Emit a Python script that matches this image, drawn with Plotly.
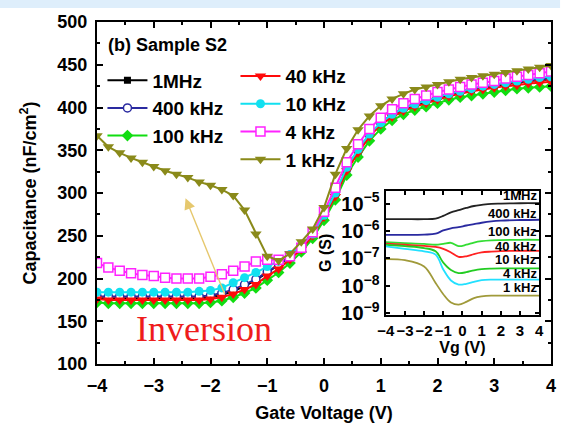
import plotly.graph_objects as go

# ---------------- data ----------------
vg = [-4.0, -3.8, -3.6, -3.4, -3.2, -3.0, -2.8, -2.6, -2.4, -2.2, -2.0, -1.8, -1.6, -1.4, -1.2,
      -1.0, -0.8, -0.6, -0.4, -0.2, 0.0, 0.2, 0.4, 0.6, 0.8, 1.0, 1.2, 1.4, 1.6, 1.8, 2.0,
      2.2, 2.4, 2.6, 2.8, 3.0, 3.2, 3.4, 3.6, 3.8, 4.0]

c_1mhz = [177, 177, 177, 177, 177, 177, 177, 177, 177, 177, 178, 181, 185, 191, 198, 207, 215, 225,
          237, 252, 273, 298, 327, 348, 367, 381, 391, 398, 403, 407, 411, 415, 418, 421, 423, 425,
          427, 429, 431, 432, 433]
c_400k = [179, 179, 179, 179, 179, 179, 179, 179, 179, 179, 180, 183, 187, 193, 199, 208, 216, 226,
          238, 253, 274, 299, 328, 349, 368, 382, 392, 399, 404, 408, 412, 416, 419, 422, 424, 426,
          428, 430, 432, 433, 434]
c_100k = [172, 171, 171, 171, 171, 171, 171, 171, 171, 171, 172, 174, 178, 183, 189, 198, 207, 218,
          231, 247, 268, 292, 321, 342, 361, 375, 385, 392, 397, 401, 405, 409, 412, 414, 416, 418,
          420, 422, 423, 424, 425]
c_40k = [176, 175, 175, 175, 175, 175, 175, 175, 175, 175, 176, 178, 182, 187, 193, 203, 211, 222,
         234, 250, 272, 296, 326, 347, 366, 380, 389, 396, 401, 405, 409, 413, 416, 419, 421, 423,
         425, 426, 428, 429, 430]
c_10k = [184, 184, 184, 184, 184, 184, 184, 184, 184, 185, 186, 189, 195, 201, 207, 214, 220, 228,
         238, 252, 274, 300, 330, 351, 369, 382, 392, 399, 404, 408, 412, 416, 419, 422, 425, 427,
         429, 431, 433, 435, 436]
c_4k = [218, 213, 209, 206, 204, 203, 201, 200, 200, 200, 202, 205, 209, 214, 220, 222, 222, 226,
        236, 254, 278, 306, 336, 357, 375, 388, 398, 405, 410, 414, 418, 421, 424, 427, 429, 431,
        434, 436, 438, 440, 442]
c_1k = [367, 354, 347, 341, 336, 331, 326, 322, 318, 313, 309, 304, 297, 280, 252, 226, 221, 229,
        243, 258, 283, 322, 352, 374, 390, 402, 410, 416, 421, 424, 427, 430, 433, 435, 437, 439,
        441, 443, 445, 447, 449]

# inset: log10 of conductance G (S)
vg_in = [-4.0, -3.0, -2.0, -1.4, -1.0, -0.6, -0.2, 0.2, 0.6, 1.0, 1.5, 2.0, 3.0, 4.0]
g_1mhz = [-5.57, -5.57, -5.57, -5.55, -5.45, -5.32, -5.24, -5.16, -5.09, -5.05, -5.01, -5.0, -4.99, -4.99]
g_400k = [-6.14, -6.14, -6.13, -6.10, -5.98, -5.90, -5.86, -5.80, -5.75, -5.70, -5.65, -5.62, -5.60, -5.59]
g_100k = [-6.41, -6.44, -6.47, -6.50, -6.47, -6.43, -6.55, -6.50, -6.42, -6.37, -6.34, -6.33, -6.32, -6.32]
g_40k = [-6.46, -6.50, -6.54, -6.58, -6.65, -6.78, -6.94, -6.92, -6.84, -6.78, -6.75, -6.73, -6.72, -6.72]
g_10k = [-6.50, -6.55, -6.62, -6.74, -7.15, -7.42, -7.53, -7.50, -7.43, -7.39, -7.37, -7.36, -7.36, -7.36]
g_4k = [-6.56, -6.65, -6.74, -6.86, -7.40, -7.80, -7.95, -7.92, -7.85, -7.79, -7.77, -7.77, -7.77, -7.77]
g_1k = [-7.02, -7.06, -7.29, -7.89, -8.30, -8.60, -8.68, -8.58, -8.44, -8.38, -8.35, -8.35, -8.35, -8.35]

names = ["1MHz", "400 kHz", "100 kHz", "40 kHz", "10 kHz", "4 kHz", "1 kHz"]
inset_labels = ["1MHz", "400 kHz", "100 kHz", "40 kHz", "10 kHz", "4 kHz", "1 kHz"]
inset_label_y = [-4.71, -5.35, -6.0, -6.56, -7.02, -7.56, -8.06]

# ---------------- style ----------------
colors = ["#000000", "#2a2aa0", "#11dd11", "#ff0a0a", "#11e0f0", "#ff22ff", "#8a8a1a"]
inset_colors = ["#222222", "#2a2aa0", "#33dd33", "#ff2222", "#22cc22", "#22e0ff", "#a09a3a"]
symbols = ["square", "circle-open", "diamond", "triangle-down", "circle", "square-open", "triangle-down"]
msizes = [7, 8, 9, 10, 9, 9, 10]
legends = ["legend", "legend", "legend", "legend2", "legend2", "legend2", "legend2"]

fig = go.Figure()
series = [c_1mhz, c_400k, c_100k, c_40k, c_10k, c_4k, c_1k]
for i, ys in enumerate(series):
    mk = dict(symbol=symbols[i], size=msizes[i], color=colors[i])
    if symbols[i].endswith("open"):
        mk = dict(symbol=symbols[i].replace("-open", ""), size=msizes[i], color="white",
                  line=dict(color=colors[i], width=1.5))
    fig.add_trace(go.Scatter(x=vg, y=ys, mode="lines+markers", name=names[i],
                             line=dict(color=colors[i], width=2), marker=mk,
                             legend=legends[i], xaxis="x", yaxis="y"))

inset_series = [g_1mhz, g_400k, g_100k, g_40k, g_10k, g_4k, g_1k]
for i, gs in enumerate(inset_series):
    fig.add_trace(go.Scatter(x=vg_in, y=[10 ** v for v in gs], mode="lines",
                             line=dict(color=inset_colors[i], width=1.8, shape="spline"),
                             showlegend=False, xaxis="x2", yaxis="y2"))

bold = "Arial"
axis_common = dict(showline=True, linecolor="black", linewidth=2, mirror="ticks",
                   ticks="inside", tickcolor="black", tickwidth=1.5, showgrid=False,
                   zeroline=False)

fig.update_layout(
    width=562, height=426,
    margin=dict(l=97, r=6, t=22, b=61),
    paper_bgcolor="white", plot_bgcolor="white",
    font=dict(family=bold, color="black"),
    xaxis=dict(domain=[0, 1], range=[-4, 4], dtick=1, tick0=-4, ticklen=6,
               minor=dict(dtick=0.5, ticks="inside", ticklen=3, tickcolor="black"),
               tickfont=dict(size=18, weight="bold"), ticklabelstandoff=4,
               title=dict(text="Gate Voltage (V)", font=dict(size=18, weight="bold"), standoff=12),
               **axis_common),
    yaxis=dict(domain=[0, 1], range=[100, 500], dtick=50, tick0=100, ticklen=6,
               minor=dict(dtick=25, ticks="inside", ticklen=3, tickcolor="black"),
               tickfont=dict(size=18, weight="bold"), ticklabelstandoff=4,
               title=dict(text="Capacitance (nF/cm<sup>2</sup>)", font=dict(size=18, weight="bold"),
                          standoff=16),
               **axis_common),
    xaxis2=dict(domain=[0.636, 0.974], range=[-4, 4], dtick=1, anchor="y2", ticklen=4,
                tickangle=0, tickfont=dict(size=15, weight="bold"), ticklabelstandoff=1,
                title=dict(text="Vg (V)", font=dict(size=16, weight="bold"), standoff=0),
                **axis_common),
    yaxis2=dict(domain=[0.143, 0.507], type="log", range=[-9.06, -4.53], dtick=1, anchor="x2",
                ticklen=4, exponentformat="power",
                tickfont=dict(size=16, weight="bold"), ticklabelstandoff=1,
                title=dict(text="G (S)", font=dict(size=16, weight="bold"), standoff=6),
                **axis_common),
    legend=dict(x=0.012, y=0.885, xanchor="left", yanchor="top", bgcolor="rgba(0,0,0,0)",
                font=dict(size=19, weight="bold"), itemwidth=40, tracegroupgap=0),
    legend2=dict(x=0.305, y=0.897, xanchor="left", yanchor="top", bgcolor="rgba(0,0,0,0)",
                 font=dict(size=19, weight="bold"), itemwidth=40, tracegroupgap=0),
    showlegend=True,
)

# light blue strip at the top of the picture
fig.add_shape(type="rect", xref="paper", yref="paper", x0=-0.22, x1=1.02, y0=1.0408, y1=1.07,
              fillcolor="#deeefb", line=dict(width=0), layer="below")

fig.add_annotation(text="(b) Sample S2", xref="paper", yref="paper", x=0.02, y=0.933,
                   xanchor="left", yanchor="middle", showarrow=False,
                   font=dict(size=18, weight="bold", color="black"))

fig.add_annotation(text="Inversion", xref="x", yref="y", x=-2.12, y=141, showarrow=False,
                   font=dict(size=36, family="Liberation Serif, Times New Roman, serif",
                             color="#ee1c1c"))

fig.add_annotation(x=-2.44, y=294, ax=-1.74, ay=180, xref="x", yref="y", axref="x", ayref="y",
                   text="", showarrow=True, arrowhead=2, arrowsize=1.6, arrowwidth=1.4,
                   arrowcolor="#e6c86e")

for lab, ly in zip(inset_labels, inset_label_y):
    fig.add_annotation(text=lab, xref="x2", yref="y2", x=4, y=ly, xanchor="right",
                       yanchor="middle", showarrow=False,
                       font=dict(size=13, weight="bold", color="black"))

fig.write_html("out.html")
